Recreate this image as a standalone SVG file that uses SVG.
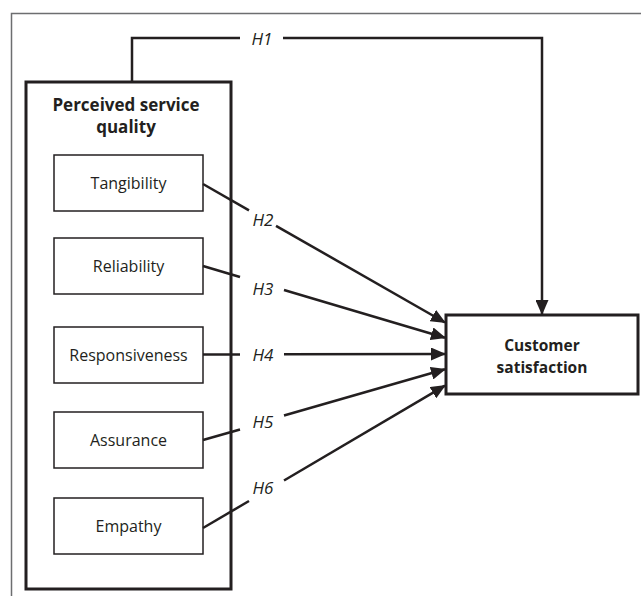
<svg xmlns="http://www.w3.org/2000/svg" width="641" height="596" viewBox="0 0 641 596">
<style>
.frame{fill:none;stroke:#6d6e70;stroke-width:1.5}
.main{fill:#fff;stroke:#231f20;stroke-width:3}
.inner{fill:#fff;stroke:#231f20;stroke-width:1.5}
.conn{fill:none;stroke:#231f20;stroke-width:2.5}
.lbl{font-family:"Open Sans","Liberation Sans",sans-serif;font-size:17px;font-style:italic;fill:#231f20;text-anchor:middle;dominant-baseline:central}
.t{font-family:"Open Sans","Liberation Sans",sans-serif;font-size:16px;fill:#231f20;text-anchor:middle;dominant-baseline:central}
.b{font-family:"Open Sans","Liberation Sans",sans-serif;font-weight:bold;fill:#231f20;text-anchor:middle;dominant-baseline:central}
.b1{font-size:17px}
.b2{font-size:15.5px}
</style>
<defs>
<marker id="ah" markerWidth="15" markerHeight="13" refX="14" refY="6.5" orient="auto" markerUnits="userSpaceOnUse">
<path d="M0,0 L15,6.5 L0,13 Z" fill="#231f20"/>
</marker>
</defs>
<path class="frame" d="M11.5,596 V13.5 H641"/>
<g id="perceived-service-quality">
<rect class="main" x="26" y="82" width="205" height="507"/>
<text class="b b1" x="126" y="104">Perceived service</text>
<text class="b b1" x="126" y="126">quality</text>
</g>
<g id="tangibility">
<rect class="inner" x="54" y="155" width="149" height="56"/>
<text class="t" x="128.5" y="183">Tangibility</text>
</g>
<g id="reliability">
<rect class="inner" x="54" y="238" width="149" height="56"/>
<text class="t" x="128.5" y="266">Reliability</text>
</g>
<g id="responsiveness">
<rect class="inner" x="54" y="327" width="149" height="56"/>
<text class="t" x="128.5" y="355">Responsiveness</text>
</g>
<g id="assurance">
<rect class="inner" x="54" y="412" width="149" height="56"/>
<text class="t" x="128.5" y="440">Assurance</text>
</g>
<g id="empathy">
<rect class="inner" x="54" y="498" width="149" height="56"/>
<text class="t" x="128.5" y="526">Empathy</text>
</g>
<g id="customer-satisfaction">
<rect class="main" x="446" y="315" width="192" height="79"/>
<text class="b b2" x="542" y="345">Customer</text>
<text class="b b2" x="542" y="367">satisfaction</text>
</g>
<g id="connectors">
<path class="conn" d="M132,82 V38 H240"/>
<path class="conn" d="M283,38 H542 V314" marker-end="url(#ah)"/>
<text class="lbl" x="262" y="38">H1</text>
<path class="conn" d="M203,184 L249,210.3"/>
<path class="conn" d="M276,225.8 L445,322.5" marker-end="url(#ah)"/>
<text class="lbl" x="263" y="219">H2</text>
<path class="conn" d="M203,266 L240,277"/>
<path class="conn" d="M284,290 L445,337.7" marker-end="url(#ah)"/>
<text class="lbl" x="263" y="288">H3</text>
<path class="conn" d="M203,354.5 L240,354.5"/>
<path class="conn" d="M284,354.3 L445,354" marker-end="url(#ah)"/>
<text class="lbl" x="263" y="354">H4</text>
<path class="conn" d="M203,440 L240,429.5"/>
<path class="conn" d="M284,415.5 L445,369.3" marker-end="url(#ah)"/>
<text class="lbl" x="263" y="421">H5</text>
<path class="conn" d="M203,528 L249,501"/>
<path class="conn" d="M284,480.5 L445,385.6" marker-end="url(#ah)"/>
<text class="lbl" x="263" y="487">H6</text>
</g>
</svg>
